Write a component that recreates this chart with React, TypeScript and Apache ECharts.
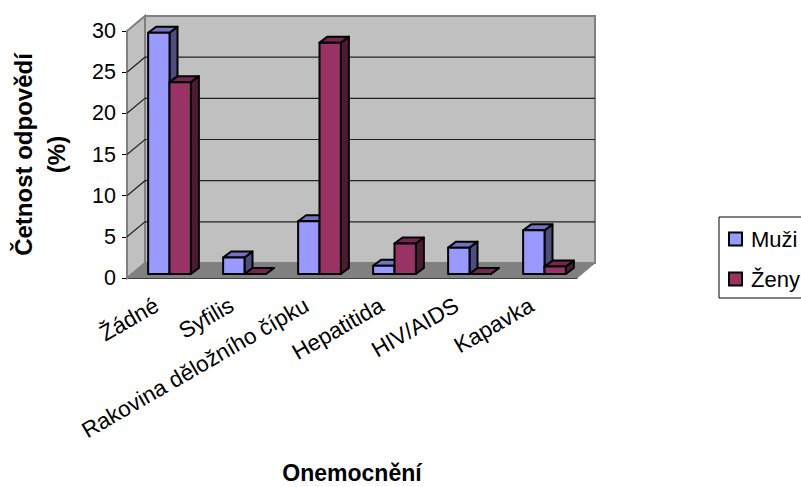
import React, { useEffect, useRef } from "react";
import * as echarts from "echarts";

const categories = ["Žádné", "Syfilis", "Rakovina děložního čípku", "Hepatitida", "HIV/AIDS", "Kapavka"];
const muzi = [29.3, 2.0, 6.4, 1.0, 3.2, 5.3];
const zeny = [23.3, 0, 28.1, 3.7, 0, 0.9];
const yTicks = [0, 5, 10, 15, 20, 25, 30];

const FONT = '"Liberation Sans", Arial, sans-serif';
// Depth of the chart box, and of a single bar, in pixels.
const DEPTH_X = 18;
const DEPTH_Y = 15;
const BAR_DEPTH_X = 8;
const BAR_DEPTH_Y = 6;
const FLOOR_SHIFT_X = 5;
const FLOOR_SHIFT_Y = 4;
const OUTLINE = { stroke: "#000", lineWidth: 2, lineJoin: "round" };

const poly = (points: number[][], fill: string, extra: object = OUTLINE) => ({
  type: "polygon",
  shape: { points },
  style: { fill, ...extra },
});

const renderWalls = (params: any, api: any) => {
  const { x, y, width, height } = params.coordSys;
  const b = y + height;
  const r = x + width;
  const plain = { stroke: "#808080", lineWidth: 2 };
  const children: any[] = [
    poly([[x, y], [x + DEPTH_X, y - DEPTH_Y], [x + DEPTH_X, b - DEPTH_Y], [x, b]], "#c0c0c0", plain),
    poly([[x + DEPTH_X, y - DEPTH_Y], [r + DEPTH_X, y - DEPTH_Y], [r + DEPTH_X, b - DEPTH_Y], [x + DEPTH_X, b - DEPTH_Y]], "#c0c0c0", plain),
    poly([[x, b], [x + DEPTH_X, b - DEPTH_Y], [r + DEPTH_X, b - DEPTH_Y], [r, b]], "#808080", { stroke: "#808080", lineWidth: 1 }),
  ];
  yTicks.slice(1, -1).forEach((t) => {
    const ty = api.coord([0, t])[1];
    children.push({
      type: "polyline",
      shape: { points: [[x, ty], [x + DEPTH_X, ty - DEPTH_Y], [r + DEPTH_X, ty - DEPTH_Y]] },
      style: { fill: "none", stroke: "#222", lineWidth: 1.2 },
    });
  });
  return { type: "group", children };
};

const makeBar = (slot: number, front: string, top: string, side: string) => (params: any, api: any) => {
  const [cx, vy] = api.coord([api.value(0), api.value(1)]);
  const band = api.size([1, 0])[0];
  const w = band * 0.285;
  const x0 = cx + FLOOR_SHIFT_X + (slot - 1) * w;
  const x1 = x0 + w;
  const base = params.coordSys.y + params.coordSys.height - FLOOR_SHIFT_Y;
  const y = vy - FLOOR_SHIFT_Y;
  return {
    type: "group",
    children: [
      poly([[x1, y], [x1 + BAR_DEPTH_X, y - BAR_DEPTH_Y], [x1 + BAR_DEPTH_X, base - BAR_DEPTH_Y], [x1, base]], side),
      poly([[x0, y], [x0 + BAR_DEPTH_X, y - BAR_DEPTH_Y], [x1 + BAR_DEPTH_X, y - BAR_DEPTH_Y], [x1, y]], top),
      poly([[x0, y], [x1, y], [x1, base], [x0, base]], front),
    ],
  };
};

export default function App() {
  const ref = useRef<HTMLDivElement>(null);
  useEffect(() => {
    const chart = echarts.init(ref.current!, undefined, { renderer: "svg" });
    chart.setOption({
      animation: false,
      textStyle: { fontFamily: FONT },
      grid: { left: 127, right: 224, top: 31, bottom: 209, outerBoundsMode: "none", containLabel: false },
      legend: {
        data: [
          { name: "Muži", icon: "rect" },
          { name: "Ženy", icon: "rect" },
        ],
        left: 719,
        top: 217,
        orient: "vertical",
        itemWidth: 13,
        itemHeight: 13,
        itemGap: 18,
        padding: [11, 30, 8, 9],
        borderColor: "#000",
        borderWidth: 1,
        textStyle: { fontSize: 22, color: "#000", fontFamily: FONT, padding: [0, 0, 0, 4] },
        itemStyle: { borderColor: "#000", borderWidth: 2, borderJoin: "miter" },
      },
      xAxis: {
        type: "category",
        data: categories,
        boundaryGap: true,
        name: "Onemocnění",
        nameLocation: "middle",
        nameGap: 183,
        nameTextStyle: { fontSize: 23, lineHeight: 23, fontWeight: "bold", color: "#000", fontFamily: FONT },
        axisLine: { lineStyle: { color: "#000", width: 1 } },
        axisTick: { length: 6, lineStyle: { color: "#000" } },
        axisLabel: { rotate: 30, interval: 0, fontSize: 22.5, color: "#000", margin: 21, padding: [0, 9, 0, 0], fontFamily: FONT },
      },
      yAxis: {
        type: "value",
        min: 0,
        max: 30,
        interval: 5,
        name: "Četnost odpovědí\n(%)",
        nameLocation: "middle",
        nameGap: 54,
        nameTextStyle: { fontSize: 24, fontWeight: "bold", color: "#000", fontFamily: FONT, lineHeight: 33 },
        axisLine: { show: true, lineStyle: { color: "#555", width: 1.5 } },
        axisTick: { show: true, length: 5, lineStyle: { color: "#000" } },
        axisLabel: { fontSize: 21.5, color: "#000", margin: 11, fontFamily: FONT },
        splitLine: { show: false },
      },
      series: [
        {
          type: "custom",
          name: "Stěny",
          data: [[0, 0]],
          clip: false,
          z: 1,
          silent: true,
          renderItem: renderWalls,
        },
        {
          type: "custom",
          name: "Muži",
          data: muzi.map((v, i) => [i, v]),
          clip: false,
          z: 2,
          itemStyle: { color: "#9999ff" },
          encode: { x: 0, y: 1 },
          renderItem: makeBar(0, "#9999ff", "#7373bf", "#4d4d80"),
        },
        {
          type: "custom",
          name: "Ženy",
          data: zeny.map((v, i) => [i, v]),
          clip: false,
          z: 3,
          itemStyle: { color: "#993366" },
          encode: { x: 0, y: 1 },
          renderItem: makeBar(1, "#993366", "#732650", "#4d1a33"),
        },
      ],
    });
    return () => chart.dispose();
  }, []);
  return <div ref={ref} style={{ width: 801, height: 487, position: "absolute", left: 0, top: 0 }} />;
}
